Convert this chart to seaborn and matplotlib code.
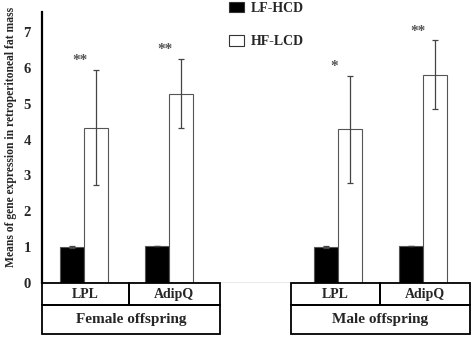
import pandas as pd
import numpy as np
import seaborn as sns
import matplotlib.pyplot as plt
from matplotlib.patches import Rectangle
from matplotlib.transforms import blended_transform_factory

# values
genes = ['LPL', 'AdipQ', 'LPL', 'AdipQ']
groups = ['Female offspring', 'Female offspring', 'Male offspring', 'Male offspring']
slots = ['F-LPL', 'F-AdipQ', 'M-LPL', 'M-AdipQ']
lf_hcd_mean = [1.0, 1.03, 1.0, 1.03]
lf_hcd_sd = [0.02, 0.01, 0.02, 0.01]
hf_lcd_mean = [4.33, 5.28, 4.28, 5.80]
hf_lcd_sd = [1.60, 0.97, 1.50, 0.96]
stars = ['**', '**', '*', '**']
diets = ['LF-HCD', 'HF-LCD']

df = pd.DataFrame({
    'slot': slots * 2,
    'diet': [diets[0]] * 4 + [diets[1]] * 4,
    'mean': lf_hcd_mean + hf_lcd_mean,
    'sd': lf_hcd_sd + hf_lcd_sd,
})

sns.set_style('white')
plt.rcParams['font.family'] = ['Liberation Serif', 'DejaVu Serif']
plt.rcParams['font.weight'] = 'bold'

order = ['F-LPL', 'F-AdipQ', 'gap', 'M-LPL', 'M-AdipQ']

fig = plt.figure(figsize=(4.72, 3.37), dpi=100)
ax = fig.add_axes([0.089, 0.16, 0.896, 0.804])
sns.barplot(data=df, x='slot', y='mean', hue='diet', order=order, hue_order=diets,
            palette=['black', 'white'], width=0.57, errorbar=None,
            edgecolor='#555555', linewidth=0.8, ax=ax)

# error bars and significance marks
sd_lookup = {(r.slot, r.diet): r.sd for r in df.itertuples()}
for diet, cont in zip(diets, ax.containers):
    for p in cont.patches:
        xc = p.get_x() + p.get_width() / 2
        slot = order[int(round(xc))]
        if slot not in slots:
            continue
        h = p.get_height()
        e = sd_lookup[(slot, diet)]
        ax.errorbar(xc, h, yerr=e, color='#444444', elinewidth=0.9, capsize=2.5,
                    capthick=0.9, fmt='none', zorder=3)
        if diet == 'HF-LCD':
            i = slots.index(slot)
            ax.text(order.index(slot) - 0.05, h + e + 0.08, stars[i], ha='center',
                    va='bottom', fontsize=11, color='#555555')

ax.set_ylim(0, 7.55)
ax.set_xlim(-0.5, 4.5)
ax.set_yticks(range(8))
ax.set_xticks([])
ax.set_xlabel('')
ax.set_ylabel('Means of gene expression in retroperitoneal fat mass', fontsize=8.4,
              fontweight='bold')
ax.yaxis.set_label_coords(-0.06, 0.54)
ax.tick_params(axis='y', labelsize=10.5, length=0, pad=8)
for lab in ax.get_yticklabels():
    lab.set_fontweight('bold')
for s in ['top', 'right', 'bottom']:
    ax.spines[s].set_visible(False)
ax.spines['left'].set_color('black')
ax.spines['left'].set_linewidth(1.6)
ax.axhline(0, color='#555555', lw=0.9, zorder=1)

# category table under the axis
tr = blended_transform_factory(ax.transData, ax.transAxes)
r1, r2 = -0.081, -0.188
boxes = [(-0.5, 0.53, 1.6, 'Female offspring'), (2.44, 3.5, 4.56, 'Male offspring')]
for (x0, xm, x1, name), g in zip(boxes, [genes[:2], genes[2:]]):
    for a, b, t in [(x0, xm, g[0]), (xm, x1, g[1])]:
        ax.add_patch(Rectangle((a, r1), b - a, -r1, transform=tr, fill=False,
                               ec='black', lw=1.3, clip_on=False))
        ax.text((a + b) / 2, r1 / 2, t, transform=tr, ha='center', va='center',
                fontsize=10, fontweight='bold')
    ax.add_patch(Rectangle((x0, r2), x1 - x0, r1 - r2, transform=tr, fill=False,
                           ec='black', lw=1.3, clip_on=False))
    ax.text((x0 + x1) / 2, (r1 + r2) / 2, name, transform=tr, ha='center',
            va='center', fontsize=11, fontweight='bold')

sns.move_legend(ax, 'upper left', bbox_to_anchor=(0.412, 1.085), frameon=False,
                title=None, labelspacing=1.45, handlelength=1.1, handleheight=0.8,
                handletextpad=0.5, prop={'weight': 'bold', 'size': 10})
for h in ax.get_legend().legend_handles:
    h.set_edgecolor('#333333')

fig.savefig('out.png', dpi=100)
